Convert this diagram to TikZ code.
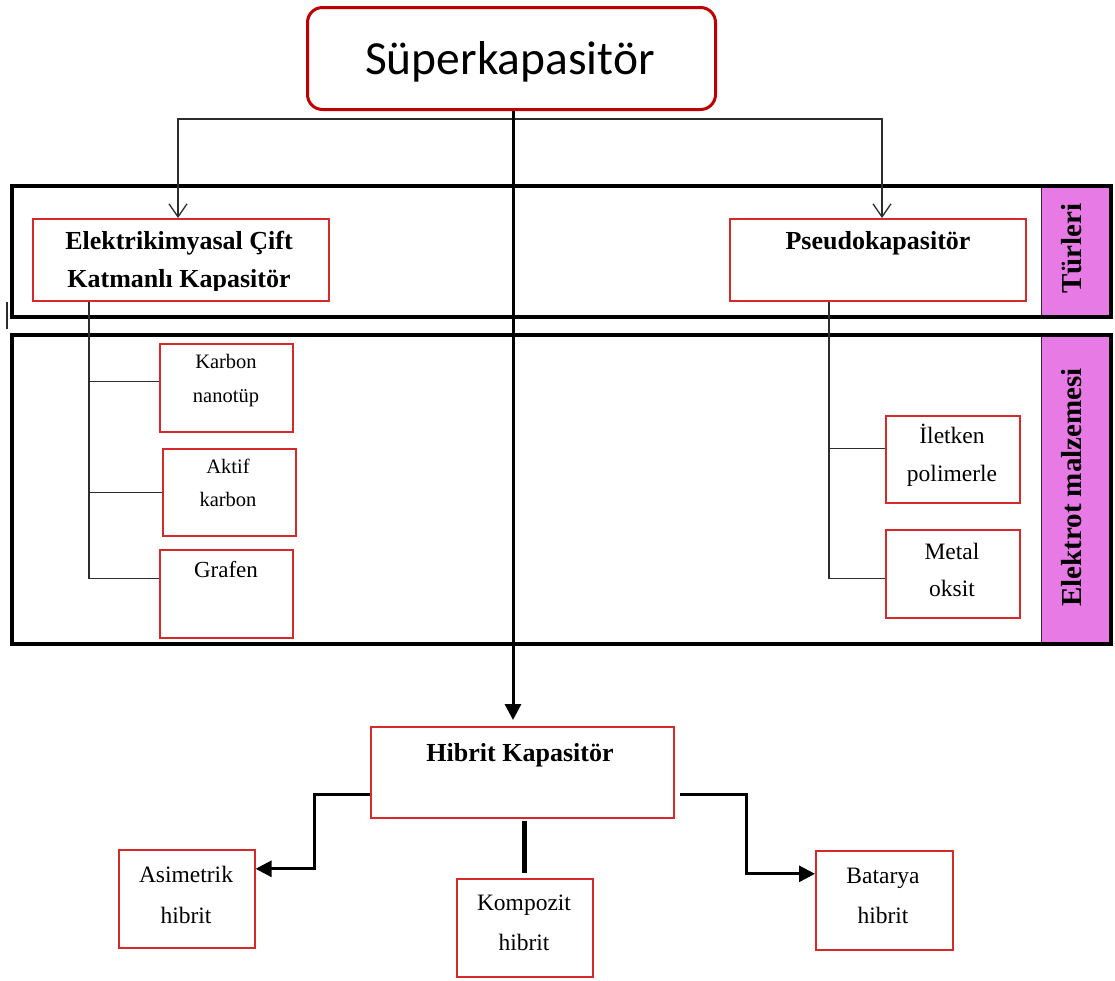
\documentclass[tikz,border=0pt]{standalone}
\usepackage{fontspec}
\setmainfont{Liberation Serif}
\newfontfamily\calibfont{Carlito}
\usetikzlibrary{arrows.meta}
\definecolor{boxred}{RGB}{214,42,42}
\definecolor{topred}{RGB}{192,0,0}
\definecolor{bandpink}{RGB}{232,122,230}
\definecolor{linkgray}{RGB}{45,45,45}
\newcommand\setfs[1]{\fontsize{#1pt}{#1pt}\selectfont}
\begin{document}
\begin{tikzpicture}[x=1pt,y=-1pt,
  redbox/.style={draw=boxred, line width=1.6pt, rectangle, inner sep=0pt, anchor=north west},
  bandbox/.style={draw=black, line width=4pt, rectangle, inner sep=0pt, anchor=north west},
  pinkcol/.style={draw=linkgray, line width=1.2pt, fill=bandpink, rectangle, inner sep=0pt, anchor=north west},
  txt/.style={inner sep=0pt, anchor=base},
  btxt/.style={txt, font=\bfseries\setfs{26}},
  sidetxt/.style={txt, rotate=90, font=\bfseries\setfs{29}},
  thinlink/.style={draw=linkgray, line width=1.3pt},
  openarrow/.style={thinlink, {Straight Barb[length=13pt,width=18pt]}-{Straight Barb[length=13pt,width=18pt]}},
  boldlink/.style={draw=black, line width=3pt, -{Triangle[length=16pt,width=16pt]}},
]
\useasboundingbox (0,0) rectangle (1115,980);

% side labels (pink columns) and the two framed bands
\node[pinkcol, minimum width=68pt, minimum height=131pt] (pk1) at (1041,184) {};
\node[pinkcol, minimum width=68pt, minimum height=309pt] (pk2) at (1041,333) {};
\node[bandbox, minimum width=1099pt, minimum height=131pt] (band1) at (10,184) {};
\node[bandbox, minimum width=1099pt, minimum height=309pt] (band2) at (10,333) {};
\draw[line width=1.5pt, linkgray] (7,302) -- (7,329);
\node[sidetxt] (turleri) at (1081,248.5) {Türleri};
\node[sidetxt] (elmalz) at (1081,487.5) {Elektrot malzemesi};

% top node
\node[draw=topred, line width=3pt, rounded corners=15pt, inner sep=0pt, anchor=north west,
      minimum width=408pt, minimum height=102pt] (sk) at (306,6) {};
\node[txt, font=\calibfont\setfs{47.5}] (skt) at (510,74) {Süperkapasitör};

% capacitor types
\node[redbox, minimum width=296pt, minimum height=82pt] (ecl) at (32,218) {};
\node[btxt] (ecl1) at (179,249) {Elektrikimyasal Çift};
\begin{scope}
  \clip (30,255) rectangle (330,290);
  \node[btxt] (ecl2) at (179,287) {Katmanlı Kapasitör};
\end{scope}
\node[redbox, minimum width=296pt, minimum height=82pt] (pk) at (729,218) {};
\node[btxt] (pkt) at (878,249) {Pseudokapasitör};

% electrode materials, left
\node[redbox, minimum width=133pt, minimum height=88pt] (kn) at (159,343) {};
\node[txt, font=\setfs{20.5}] (kn1) at (226,368) {Karbon};
\node[txt, font=\setfs{20.5}] (kn2) at (226,402) {nanotüp};
\node[redbox, minimum width=133pt, minimum height=87pt] (ak) at (162,448) {};
\node[txt, font=\setfs{20.5}] (ak1) at (228,473) {Aktif};
\node[txt, font=\setfs{20.5}] (ak2) at (228,506) {karbon};
\node[redbox, minimum width=133pt, minimum height=88pt] (gr) at (159,549) {};
\node[txt, font=\setfs{23}] (gr1) at (226,577) {Grafen};

% electrode materials, right
\node[redbox, minimum width=134pt, minimum height=87pt] (ip) at (885,415) {};
\node[txt, font=\setfs{23.5}] (ip1) at (952,443) {İletken};
\node[txt, font=\setfs{23.5}] (ip2) at (952,481) {polimerle};
\node[redbox, minimum width=134pt, minimum height=88pt] (mo) at (885,529) {};
\node[txt, font=\setfs{23.5}] (mo1) at (952,559) {Metal};
\node[txt, font=\setfs{23.5}] (mo2) at (952,596) {oksit};

% hybrid capacitor and its kinds
\node[redbox, minimum width=303pt, minimum height=91pt] (hk) at (370,726) {};
\node[btxt] (hkt) at (520,761) {Hibrit Kapasitör};
\node[redbox, minimum width=136pt, minimum height=98pt] (am) at (118,849) {};
\node[txt, font=\setfs{23.5}] (am1) at (186,882) {Asimetrik};
\node[txt, font=\setfs{23.5}] (am2) at (186,923) {hibrit};
\node[redbox, minimum width=136pt, minimum height=98pt] (kh) at (456,878) {};
\node[txt, font=\setfs{23.5}] (kh1) at (524,910) {Kompozit};
\node[txt, font=\setfs{23.5}] (kh2) at (524,950) {hibrit};
\node[redbox, minimum width=137pt, minimum height=99pt] (bh) at (815,850) {};
\node[txt, font=\setfs{23.5}] (bh1) at (883,883) {Batarya};
\node[txt, font=\setfs{23.5}] (bh2) at (883,923) {hibrit};

% connector guide points
\coordinate (cx) at (513,0);
\coordinate (jl) at (178,119);
\coordinate (jr) at (882,119);
\coordinate (vl) at (89,0);
\coordinate (vr) at (829,0);

% branches to the two capacitor types
\draw[openarrow] (ecl.north -| jl) -- (jl) -- (jr) -- (pk.north -| jr);

% trunk from the top node down to the hybrid capacitor
\draw[boldlink, shorten >=6pt] (sk.south -| cx) -- (hk.north -| cx);

% material trees
\draw[thinlink] (ecl.south -| vl) -- ([yshift=15pt]gr.west -| vl) -- ([yshift=15pt]gr.west);
\draw[thinlink] ([yshift=6pt]kn.west -| vl) -- ([yshift=6pt]kn.west);
\draw[thinlink] ([yshift=-0.5pt]ak.west -| vl) -- ([yshift=-0.5pt]ak.west);
\draw[thinlink] (pk.south -| vr) -- ([yshift=-5pt]mo.west -| vr) -- ([yshift=-5pt]mo.west);
\draw[thinlink] ([yshift=10.5pt]ip.west -| vr) -- ([yshift=10.5pt]ip.west);

% hybrid kinds
\draw[boldlink] ([yshift=-22.5pt]hk.west) -- ++(-56,0) |- ([yshift=30pt]am.east);
\draw[draw=black, line width=5pt, shorten <=2pt, shorten >=5pt] (hk.south -| kh.north) -- (kh.north);
\draw[boldlink] ([xshift=5pt,yshift=-22.5pt]hk.east) -- ++(67,0) |- ([yshift=26.5pt]bh.west);
\end{tikzpicture}
\end{document}
